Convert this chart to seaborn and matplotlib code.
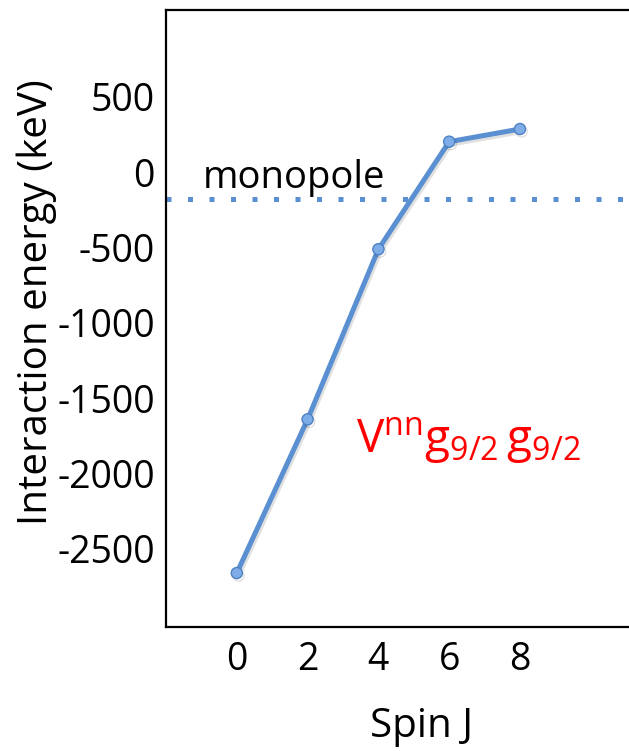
import matplotlib
matplotlib.use("Agg")
import matplotlib.pyplot as plt
import matplotlib.patheffects as pe
import seaborn as sns
import pandas as pd

# Two-body matrix elements for the neutron g9/2 shell, by total spin J
spin_j = [0, 2, 4, 6, 8]
energy_kev = [-2660, -1640, -511, 203, 287]
monopole_kev = -177
y_ticks = [500, 0, -500, -1000, -1500, -2000, -2500]
x_ticks = [0, 2, 4, 6, 8]

sns.set_theme(style="white")
plt.rcParams["font.family"] = ["Open Sans", "DejaVu Sans"]
plt.rcParams["mathtext.fontset"] = "custom"
plt.rcParams["mathtext.rm"] = "Open Sans"
plt.rcParams["mathtext.it"] = "Open Sans"

blue = "#5a8fd2"
df = pd.DataFrame({"J": spin_j, "E": energy_kev})

fig = plt.figure(figsize=(6.29, 7.51), dpi=100)
ax = fig.add_axes([166 / 629, 1 - 627 / 751, 1 - 166 / 629, (627 - 10) / 751])

shadow = [pe.SimpleLineShadow(offset=(1.2, -1.8), alpha=0.12, shadow_color="black"), pe.Normal()]

# monopole average as a square-dotted horizontal line
ax.axhline(monopole_kev, color=blue, lw=3.6, linestyle=(0, (1, 3.3)),
           dash_capstyle="butt", zorder=2)

sns.lineplot(data=df, x="J", y="E", ax=ax, color=blue, lw=3.6, marker="o",
             markersize=8, markerfacecolor="#7eace6", markeredgecolor="#4f82c4",
             markeredgewidth=1.0, zorder=3)
for ln in ax.lines[1:]:
    ln.set_path_effects(shadow)

ax.set_xlim(-2.0, 11.08)
ax.set_ylim(-3018, 1077)
ax.set_xticks(x_ticks)
ax.set_yticks(y_ticks)
ax.set_xticklabels([str(v) for v in x_ticks])
ax.set_yticklabels([str(v) for v in y_ticks])
ax.tick_params(axis="both", length=0, labelsize=27, colors="black")
ax.tick_params(axis="y", pad=8)
ax.tick_params(axis="x", pad=10)

for side in ["left", "bottom", "top"]:
    ax.spines[side].set_visible(True)
    ax.spines[side].set_color("black")
    ax.spines[side].set_linewidth(1.6)
ax.spines["right"].set_visible(False)

ax.set_ylabel("Interaction energy (keV)", fontsize=29, color="black",
              ha="center", va="center")
ax.yaxis.set_label_coords(-0.28, 0.527)
ax.set_xlabel("Spin J", fontsize=29, color="black", ha="center", va="center")
ax.xaxis.set_label_coords(0.553, -0.162)

ax.text(-0.97, -104, "monopole", fontsize=27.5, color="black",
        ha="left", va="baseline")
ax.text(3.38, -1863, r"$\mathrm{V^{nn}g_{9/2}\,g_{9/2}}$", fontsize=33,
        color="#ff0000", ha="left", va="baseline")

fig.savefig("out.png", dpi=100)
